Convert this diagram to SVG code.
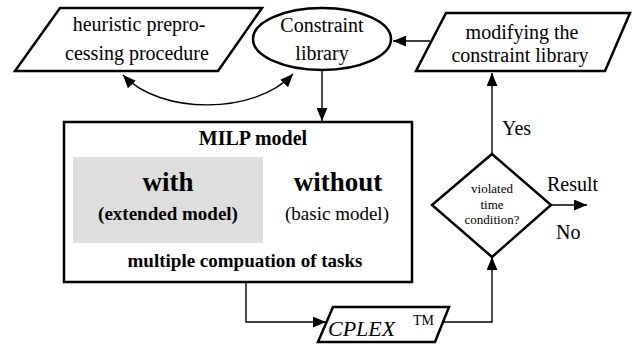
<svg xmlns="http://www.w3.org/2000/svg" width="632" height="344" viewBox="0 0 632 344">
  <defs>
    <marker id="arrowL" viewBox="0 0 12 10" refX="12" refY="5" markerWidth="13" markerHeight="11" markerUnits="userSpaceOnUse" orient="auto-start-reverse">
      <path d="M0,0 L12,5 L0,10 z" fill="#000"/>
    </marker>
  </defs>
  <style>
    .shape { fill: #fff; stroke: #000; stroke-width: 2.5; }
    .conn { fill: none; stroke: #000; stroke-width: 1.4; }
    text { font-family: "Times New Roman", Times, "Liberation Serif", Tinos, "Noto Serif", "DejaVu Serif", FreeSerif, serif; }
    .lbl { font-size: 20px; text-anchor: middle; }
    .b { font-weight: bold; }
  </style>
  <rect width="632" height="344" fill="#fff"/>

  <!-- connectors -->
  <g id="connectors">
    <path class="conn" d="M123,75 C160,115 255,115 293,74" marker-start="url(#arrowL)" marker-end="url(#arrowL)"/>
    <path class="conn" d="M430,41 L393,41" marker-end="url(#arrowL)"/>
    <path class="conn" d="M322,71 L322,121" marker-end="url(#arrowL)"/>
    <path class="conn" d="M492,154 L492,73" marker-end="url(#arrowL)"/>
    <path class="conn" d="M551,205 L587,205" marker-end="url(#arrowL)"/>
    <path class="conn" d="M246,282 L246,322 L326,322" marker-end="url(#arrowL)"/>
    <path class="conn" d="M442,322 L492,322 L492,257" marker-end="url(#arrowL)"/>
  </g>

  <!-- heuristic preprocessing -->
  <g id="heuristic">
    <polygon class="shape" points="60,8 262,8 218,71 15,71"/>
    <text class="lbl" x="139" y="31">heuristic prepro-</text>
    <text class="lbl" x="137" y="60">cessing procedure</text>
  </g>

  <!-- constraint library -->
  <g id="library">
    <ellipse class="shape" cx="322" cy="39" rx="69" ry="31"/>
    <text class="lbl" x="322" y="32">Constraint</text>
    <text class="lbl" x="322" y="60">library</text>
  </g>

  <!-- modifying the library -->
  <g id="modify">
    <polygon class="shape" points="446,13 630,13 605,71 416,71"/>
    <text class="lbl" x="522" y="39">modifying the</text>
    <text class="lbl" x="520" y="62">constraint library</text>
  </g>

  <!-- MILP model -->
  <g id="milp">
    <rect class="shape" x="64" y="122" width="348" height="160"/>
    <rect x="73" y="157" width="190" height="86" fill="#dedede"/>
    <text class="lbl b" x="253" y="145">MILP model</text>
    <text class="lbl b" x="168" y="191" style="font-size:27px">with</text>
    <text class="lbl b" x="168" y="220" style="font-size:19px">(extended model)</text>
    <text class="lbl b" x="338" y="191" style="font-size:27px">without</text>
    <text class="lbl" x="337" y="220" style="font-size:19px">(basic model)</text>
    <text class="lbl b" x="245" y="267" style="font-size:19px">multiple compuation of tasks</text>
  </g>

  <!-- decision -->
  <g id="decision">
    <polygon class="shape" points="492,154 551,205 492,257 432,205"/>
    <text class="lbl" x="492" y="193" style="font-size:13px">violated</text>
    <text class="lbl" x="492" y="209" style="font-size:13px">time</text>
    <text class="lbl" x="492" y="224" style="font-size:13px">condition?</text>
  </g>

  <!-- CPLEX -->
  <g id="cplex">
    <polygon class="shape" points="333,307 449,307 435,342 318,342"/>
    <text x="328" y="336" font-size="22" font-style="italic">CPLEX</text>
    <text x="413" y="325" font-size="14">TM</text>
  </g>

  <!-- edge labels -->
  <g id="labels">
    <text x="502" y="135" font-size="20">Yes</text>
    <text x="547" y="191" font-size="20">Result</text>
    <text x="556" y="239" font-size="20">No</text>
  </g>
</svg>
